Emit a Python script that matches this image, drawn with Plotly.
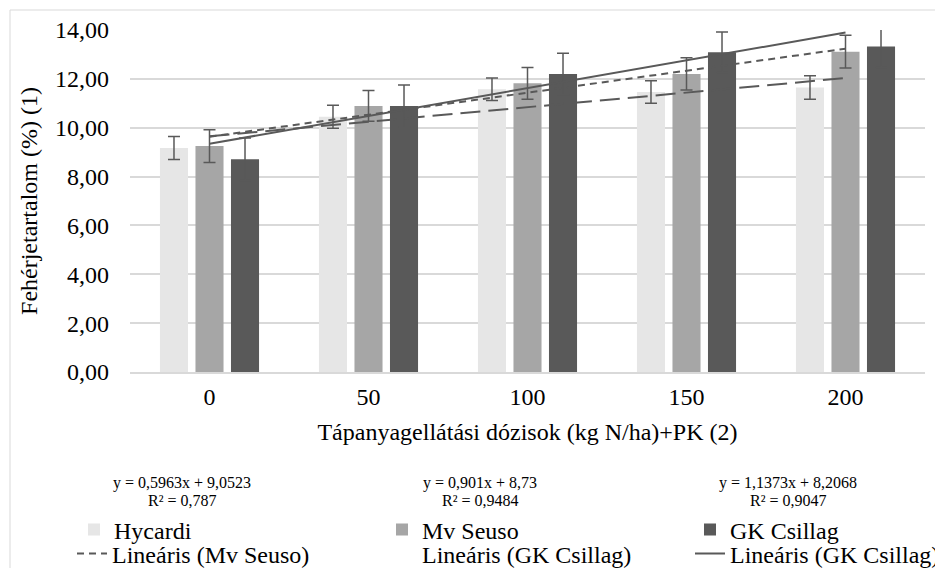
import plotly.graph_objects as go

categories = ["0", "50", "100", "150", "200"]
hycardi = [9.17, 10.45, 11.57, 11.46, 11.65]
mv_seuso = [9.25, 10.89, 11.82, 12.20, 13.11]
gk_csillag = [8.71, 10.89, 12.20, 13.09, 13.32]
err_hycardi = [0.47, 0.47, 0.46, 0.46, 0.48]
err_mv_seuso = [0.67, 0.63, 0.65, 0.66, 0.67]
err_gk_csillag = [0.87, 0.86, 0.85, 0.83, 0.86]

# trendline equations printed in the chart (x = 1..5)
trend_hycardi = (0.5963, 9.0523)
trend_mv_seuso = (0.901, 8.73)
trend_gk_csillag = (1.1373, 8.2068)
eq_labels = ["y = 0,5963x + 9,0523", "y = 0,901x + 8,73", "y = 1,1373x + 8,2068"]
r2_labels = ["R² = 0,787", "R² = 0,9484", "R² = 0,9047"]

SERIF = "Liberation Serif, Times New Roman, serif"
FS = 24
ERRC = "#595959"

def trend(coef):
    a, b = coef
    return [a * (i + 1) + b for i in range(len(categories))]

L, R, T, B = 130, 10, 30, 196
W, H = 935, 568
pw, ph = W - L - R, H - T - B

def px_x(x):
    return (x - L) / pw

def px_y(y):
    return (H - B - y) / ph

fig = go.Figure()
for name, vals, errs, col, lg in [("Hycardi", hycardi, err_hycardi, "#e6e6e6", "legend"),
                                  ("Mv Seuso", mv_seuso, err_mv_seuso, "#a6a6a6", "legend2"),
                                  ("GK Csillag", gk_csillag, err_gk_csillag, "#595959", "legend3")]:
    fig.add_trace(go.Bar(
        x=categories, y=vals, name=name, marker_color=col, marker_line_width=0,
        error_y=dict(type="data", array=errs, visible=True, color=ERRC,
                     thickness=1.5, width=6),
        legend=lg))

fig.add_trace(go.Scatter(x=categories, y=trend(trend_hycardi), mode="lines",
                         line=dict(color=ERRC, width=2, dash="20px,8px"),
                         showlegend=False, hoverinfo="skip"))
fig.add_trace(go.Scatter(x=categories, y=trend(trend_mv_seuso), mode="lines",
                         name="Lineáris (Mv Seuso)",
                         line=dict(color=ERRC, width=2, dash="7px,5px"),
                         legend="legend4"))
fig.add_trace(go.Scatter(x=[None], y=[None], mode="lines",
                         name="Lineáris (GK Csillag)",
                         line=dict(color="rgba(0,0,0,0)", width=0),
                         legend="legend5"))
fig.add_trace(go.Scatter(x=categories, y=trend(trend_gk_csillag), mode="lines",
                         name="Lineáris (GK Csillag)",
                         line=dict(color=ERRC, width=2),
                         legend="legend6"))

eq_x = [182, 480, 788]
for i in range(3):
    fig.add_annotation(x=px_x(eq_x[i]), y=px_y(483), xref="paper", yref="paper",
                       text=eq_labels[i], showarrow=False, xanchor="center",
                       yanchor="middle",
                       font=dict(family=SERIF, size=16, color="#000"))
    fig.add_annotation(x=px_x(eq_x[i]), y=px_y(500), xref="paper", yref="paper",
                       text=r2_labels[i], showarrow=False, xanchor="center",
                       yanchor="middle",
                       font=dict(family=SERIF, size=16, color="#000"))

fig.add_shape(type="rect", xref="paper", yref="paper",
              x0=px_x(10), x1=px_x(960), y0=px_y(600), y1=px_y(10),
              line=dict(color="#d9d9d9", width=1), layer="below")

legfont = dict(family=SERIF, size=FS, color="#000")

def leg(xpx, ypx):
    return dict(orientation="h", x=px_x(xpx), y=px_y(ypx), xanchor="left",
                yanchor="middle", font=legfont, itemwidth=30,
                bgcolor="rgba(0,0,0,0)")

fig.update_layout(
    width=W, height=H,
    margin=dict(l=L, r=R, t=T, b=B, autoexpand=False),
    paper_bgcolor="white", plot_bgcolor="white",
    separators=", ",
    barmode="group", bargap=0.33, bargroupgap=0.21,
    font=dict(family=SERIF, size=FS, color="#000"),
    legend=leg(74, 530), legend2=leg(382, 530), legend3=leg(690, 530),
    legend4=leg(72, 554), legend5=leg(382, 554), legend6=leg(690, 554),
    xaxis=dict(type="category", range=[-0.5, 4.5], showgrid=False,
               showline=True, linecolor="#d9d9d9", linewidth=1.5,
               ticks="", ticklabelstandoff=2,
               tickfont=dict(family=SERIF, size=FS, color="#000"),
               title=dict(text="Tápanyagellátási dózisok (kg N/ha)+PK (2)",
                          font=dict(family=SERIF, size=FS, color="#000"),
                          standoff=15)),
    yaxis=dict(range=[0, 14], dtick=2, tickformat=".2f", showgrid=True,
               gridcolor="#d9d9d9", gridwidth=1.5, zeroline=False,
               showline=False, ticks="", ticklabelstandoff=20,
               tickfont=dict(family=SERIF, size=FS, color="#000"),
               title=dict(text="Fehérjetartalom (%) (1)",
                          font=dict(family=SERIF, size=FS, color="#000"),
                          standoff=10)),
)

fig.write_html("out.html")
